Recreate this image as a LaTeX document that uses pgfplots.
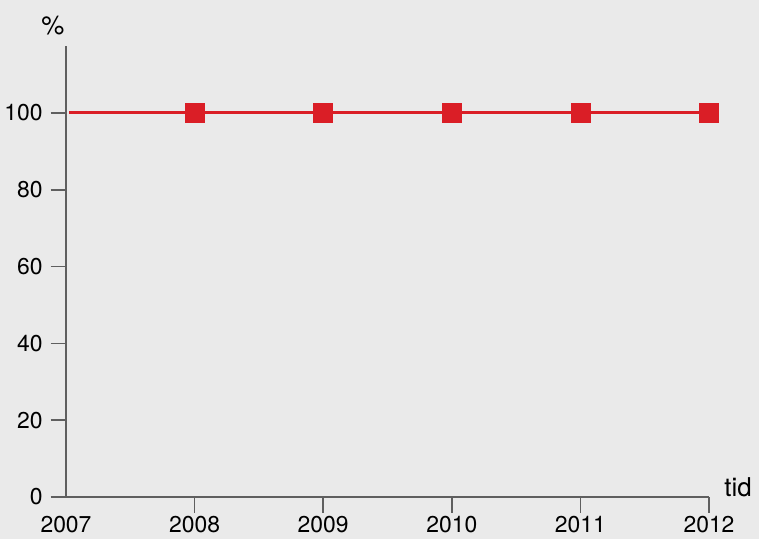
\documentclass[border=0pt]{standalone}
\usepackage{pgfplots}
\pgfplotsset{compat=1.18}
\usepackage{fontspec}
\setmainfont{TeX Gyre Heros}
\definecolor{bg}{RGB}{234,234,234}
\definecolor{axgray}{RGB}{95,95,95}
\definecolor{redline}{RGB}{218,30,38}
\begin{document}
\fontsize{23}{27}\selectfont
\begin{tikzpicture}
\fill[bg] (0,0) rectangle (759bp,539bp);
\begin{axis}[
  at={(66bp,42bp)}, anchor=south west,
  x=128.6bp, y=3.84bp,
  xmin=2007, xmax=2012, ymin=0, ymax=117.4,
  axis lines=left,
  axis line style={-, axgray, line width=1.6bp},
  tick style={axgray, line width=1.6bp},
  tick align=outside,
  major tick length=15.5bp,
  xtick={2008,2009,2010,2011,2012},
  extra x ticks={2007},
  extra x tick style={major tick length=0pt, xticklabel style={yshift=-15.5bp}},
  ytick={0,20,40,60,80,100},
  xticklabel style={/pgf/number format/1000 sep={}, inner sep=0.5bp, yshift=-3bp},
  x tick label style={/pgf/number format/1000 sep={}},
  /pgf/number format/assume math mode=true,
  ticklabel style={font=\fontsize{23}{27}\selectfont},
  clip=false,
]
\addplot[redline, line width=3bp, mark=square*, mark size=9.5bp,
  mark options={fill=redline, draw=redline, line width=0.5bp},
  mark indices={2,3,4,5,6}]
  coordinates {(2007.025,100) (2008,100) (2009,100) (2010,100) (2011,100) (2012,100)};
\end{axis}
\node[font=\fontsize{26}{30}\selectfont] at (53bp,513bp) {\%};
\node[font=\fontsize{26}{30}\selectfont] at (738bp,52bp) {tid};
\pgfresetboundingbox
\useasboundingbox (0,0) rectangle (759bp,539bp);
\end{tikzpicture}
\end{document}
